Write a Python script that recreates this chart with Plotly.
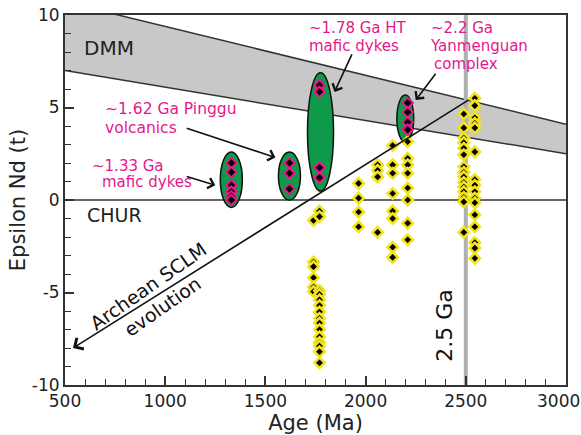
import plotly.graph_objects as go

# ---- Depleted mantle (DMM) band boundaries ----
dmm_age = [500, 3000]
dmm_upper = [10.7, 4.1]
dmm_lower = [7.0, 2.5]

# ---- Archean SCLM evolution line (start -> arrow tip) ----
sclm_age = [2520, 540]
sclm_eps = [5.45, -8.0]

# ---- Grouped intrusions outlined by ellipses ----
ell_age = [1330, 1620, 1775, 2198]
ell_eps = [1.1, 1.3, 3.68, 4.4]
ell_half_age = [55, 55, 65, 42]
ell_half_eps = [1.5, 1.3, 3.2, 1.27]

# ---- Mafic dykes / volcanics / complex (magenta-rimmed) ----
mag_age = [1330] * 6 + [1620] * 3 + [1770] * 4 + [2210] * 4
mag_eps = [2.0, 1.5, 0.8, 0.45, 0.2, 0.0,
           2.0, 1.45, 0.6,
           6.2, 5.85, 1.75, 1.2,
           5.25, 4.75, 4.2, 3.8]

# ---- Archean basement samples (yellow-rimmed) ----
yel_age = ([1740] * 6 + [1770] * 15 + [1965] * 4 + [2060] * 4 +
           [2135] * 8 + [2210] * 8 + [2490] * 15 + [2545] * 16)
yel_eps = ([-1.1, -3.35, -3.6, -4.2, -4.7, -4.95] +
           [-0.6, -0.9, -4.9, -5.1, -5.4, -5.7, -6.05, -6.4, -6.65, -7.0,
            -7.4, -7.7, -7.9, -8.2, -8.8] +
           [0.9, 0.1, -0.65, -1.45] +
           [1.9, 1.6, 1.25, -1.75] +
           [2.95, 1.9, 1.45, 0.35, -0.6, -1.0, -2.55, -3.1] +
           [3.15, 2.25, 1.9, 1.45, 0.65, 0.0, -1.25, -2.15] +
           [4.65, 3.9, 3.35, 3.1, 2.8, 2.45, 1.8, 1.5, 1.25, 0.95, 0.7,
            0.45, 0.15, -0.1, -1.75] +
           [5.5, 5.1, 4.45, 4.15, 3.9, 2.6, 1.1, 0.8, 0.45, 0.1, -0.15,
            -0.8, -1.45, -2.3, -2.6, -3.15])

# ---- Tick labels ----
x_ticks = [500, 1000, 1500, 2000, 2500, 3000]
x_ticktext = ["500", "1000", "1500", "2000", "2500", ""]   # last one placed by hand
x_last_label = "3000"
y_ticks = [-10, -5, 0, 5, 10]
y_ticktext = ["-10", "-5", "0", "5", "10"]

FONT = "DejaVu Sans, Verdana, sans-serif"
PINK = "#e5178b"
GREEN = "#0e9a4a"
AXIS = "#333333"
INK = "#222222"

shapes = []
# DMM band
band = (f"M {dmm_age[0]},{dmm_lower[0]} L {dmm_age[1]},{dmm_lower[1]} "
        f"L {dmm_age[1]},{dmm_upper[1]} L {dmm_age[0]},{dmm_upper[0]} Z")
shapes.append(dict(type="path", path=band, xref="x", yref="y",
                   fillcolor="#c8c8c8", line=dict(width=0), layer="below"))
for ys in (dmm_upper, dmm_lower):
    shapes.append(dict(type="line", xref="x", yref="y",
                       x0=dmm_age[0], y0=ys[0], x1=dmm_age[1], y1=ys[1],
                       line=dict(color=AXIS, width=1.5), layer="below"))
# CHUR reference
shapes.append(dict(type="line", xref="x", yref="y", x0=500, x1=3000, y0=0, y1=0,
                   line=dict(color=AXIS, width=1.5), layer="below"))
# 2.5 Ga marker line
shapes.append(dict(type="line", xref="x", yref="y", x0=2500, x1=2500, y0=-10, y1=10,
                   line=dict(color="#b0b0b0", width=4), layer="below"))
# ellipses
for a, e, da, de in zip(ell_age, ell_eps, ell_half_age, ell_half_eps):
    shapes.append(dict(type="circle", xref="x", yref="y",
                       x0=a - da, x1=a + da, y0=e - de, y1=e + de,
                       fillcolor=GREEN, line=dict(color="#111111", width=1.5),
                       layer="below"))

fig = go.Figure()
fig.add_trace(go.Scatter(
    x=yel_age, y=yel_eps, mode="markers",
    marker=dict(symbol="diamond", size=8, color="black",
                line=dict(color="#f2e41a", width=2.6)),
    showlegend=False, hoverinfo="skip"))
fig.add_trace(go.Scatter(
    x=mag_age, y=mag_eps, mode="markers",
    marker=dict(symbol="diamond", size=8, color="black",
                line=dict(color=PINK, width=2)),
    showlegend=False, hoverinfo="skip"))

ann = []


def label(text, x, y, color=PINK, size=15, xanchor="left", angle=0):
    ann.append(dict(text=text, x=x, y=y, xref="x", yref="y", showarrow=False,
                    xanchor=xanchor, yanchor="middle", textangle=angle,
                    font=dict(family=FONT, size=size, color=color)))


def arrow(x_tail, y_tail, x_tip, y_tip, size=1.3):
    ann.append(dict(text="", x=x_tip, y=y_tip, ax=x_tail, ay=y_tail,
                    xref="x", yref="y", axref="x", ayref="y",
                    showarrow=True, arrowhead=4, arrowsize=size, arrowwidth=1.6,
                    arrowcolor="#111111", standoff=0))


label("DMM", 585, 8.2, color=INK, size=20)
label("CHUR", 600, -0.8, color=INK, size=19)
label("~1.33 Ga", 625, 1.84)
label("mafic dykes", 675, 0.95)
label("~1.62 Ga Pinggu", 690, 4.92, size=15.5)
label("volcanics", 690, 3.9, size=15.5)
label("~1.78 Ga HT", 1710, 9.3)
label("mafic dykes", 1710, 8.3)
label("~2.2 Ga", 2315, 9.3)
label("Yanmenguan", 2310, 8.3)
label("complex", 2330, 7.35)
label("2.5 Ga", 2390, -6.76, color="#111111", size=22, xanchor="center", angle=-90)
label("Archean SCLM<br>evolution", 950, -5.2, color="#111111", size=19,
      xanchor="center", angle=-35)

arrow(1100, 1.3, 1250, 0.8)
arrow(1100, 3.9, 1550, 2.3)
arrow(1935, 7.95, 1845, 5.84)
arrow(2355, 6.9, 2250, 5.4)
arrow(sclm_age[0], sclm_eps[0], sclm_age[1], sclm_eps[1], size=1.6)

# right-most x tick label, nudged inward so it stays on the page
ann.append(dict(text=x_last_label, x=x_ticks[-1], y=0, xref="x", yref="paper",
                xanchor="center", yanchor="middle", xshift=-8, yshift=-16,
                showarrow=False, font=dict(family=FONT, size=17, color=INK)))

axis_common = dict(showline=True, linecolor=AXIS, linewidth=2, mirror=True,
                   ticks="inside", ticklen=9, tickwidth=1.5, tickcolor=AXIS,
                   showgrid=False, zeroline=False,
                   tickfont=dict(family=FONT, size=17, color=INK))

fig.update_layout(
    width=581, height=435,
    margin=dict(l=65, r=15, t=15, b=50),
    paper_bgcolor="white", plot_bgcolor="white",
    shapes=shapes, annotations=ann,
    xaxis=dict(range=[500, 3000], tickmode="array", tickvals=x_ticks,
               ticktext=x_ticktext,
               minor=dict(dtick=100, tick0=500, ticks="inside", ticklen=6,
                          tickwidth=1.2, tickcolor=AXIS),
               title=dict(text="Age (Ma)", standoff=4,
                          font=dict(family=FONT, size=21, color=INK)),
               automargin=False, **axis_common),
    yaxis=dict(range=[-10, 10], tickmode="array", tickvals=y_ticks,
               ticktext=y_ticktext,
               minor=dict(dtick=1, tick0=-10, ticks="inside", ticklen=6,
                          tickwidth=1.2, tickcolor=AXIS),
               title=dict(text="Epsilon Nd (t)", standoff=0,
                          font=dict(family=FONT, size=21, color=INK)),
               automargin=False, **axis_common),
)

fig.write_html("out.html")
